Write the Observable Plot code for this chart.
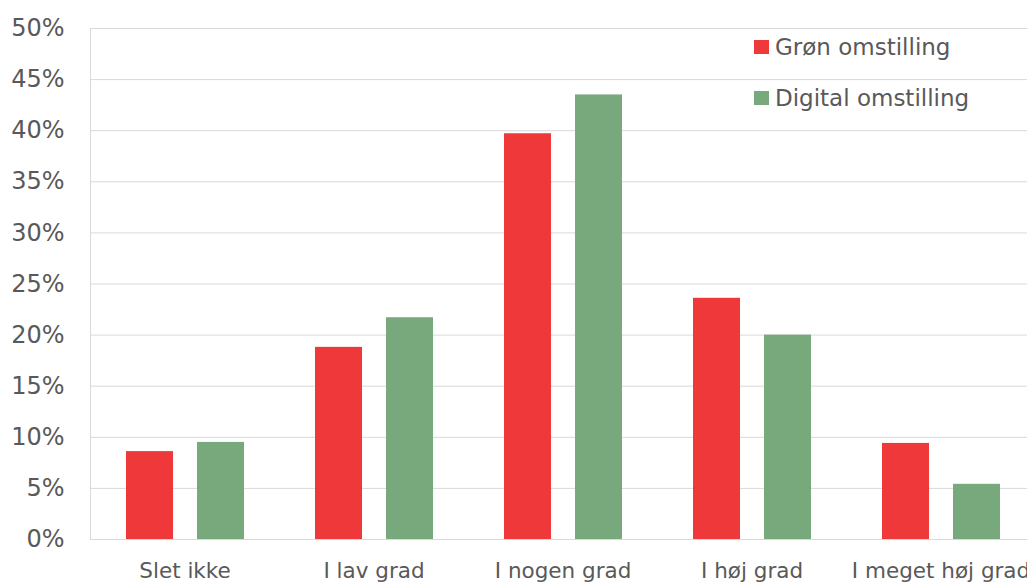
<!DOCTYPE html>
<html>
<head>
<meta charset="utf-8">
<script src="https://cdn.jsdelivr.net/npm/d3@7"></script>
<script src="https://cdn.jsdelivr.net/npm/@observablehq/plot@0.6"></script>
<style>
  body { margin: 0; background: #fff; }
  #wrap { position: relative; width: 1027px; height: 583px; overflow: hidden; font-family: "DejaVu Sans", sans-serif; color: #595959; }
  .lg { position: absolute; left: 754px; display: flex; align-items: center; font-size: 23px; line-height: 30px; white-space: nowrap; }
  .sw { width: 15px; height: 14px; margin-right: 6px; }
</style>
</head>
<body>
<div id="wrap"></div>
<script>
const categories = ["Slet ikke", "I lav grad", "I nogen grad", "I høj grad", "I meget høj grad"];
const series = ["Grøn omstilling", "Digital omstilling"];
const gron = [8.6, 18.8, 39.7, 23.6, 9.4];
const digital = [9.5, 21.7, 43.5, 20.0, 5.4];
const yTicks = [0, 5, 10, 15, 20, 25, 30, 35, 40, 45, 50];
const colors = ["#EE3839", "#78A97D"];

const data = categories.flatMap((c, i) => [
  {category: c, series: series[0], value: gron[i]},
  {category: c, series: series[1], value: digital[i]}
]);

const chart = Plot.plot({
  width: 1027,
  height: 583,
  marginTop: 28,
  marginBottom: 44,
  marginLeft: 89,
  marginRight: -8,
  style: {fontFamily: "DejaVu Sans, sans-serif", fontSize: "23px", color: "#595959", background: "white", overflow: "visible"},
  fx: {domain: categories, padding: 0, label: null},
  x: {domain: series, paddingInner: 0.34, paddingOuter: 0.5, axis: null},
  y: {domain: [0, 50], label: null},
  color: {domain: series, range: colors},
  marks: [
    Plot.ruleY(yTicks, {stroke: "#d9d9d9", strokeWidth: 1}),
    Plot.frame({anchor: "left", stroke: "#d9d9d9", facetAnchor: "left"}),
    Plot.barY(data, {fx: "category", x: "series", y: "value", fill: "series"}),
    Plot.axisY(yTicks, {tickSize: 0, tickPadding: 26, tickFormat: d => d + "%", label: null, fontSize: 24}),
    Plot.axisFx({anchor: "bottom", tickSize: 0, tickPadding: 23, label: null, fontSize: 21.5})
  ]
});

const wrap = document.getElementById("wrap");
wrap.appendChild(chart);
series.forEach((s, i) => {
  const row = document.createElement("div");
  row.className = "lg";
  row.style.top = (32 + i * 51) + "px";
  const sw = document.createElement("span");
  sw.className = "sw";
  sw.style.background = colors[i];
  const t = document.createElement("span");
  t.textContent = s;
  row.appendChild(sw);
  row.appendChild(t);
  wrap.appendChild(row);
});
</script>
</body>
</html>
